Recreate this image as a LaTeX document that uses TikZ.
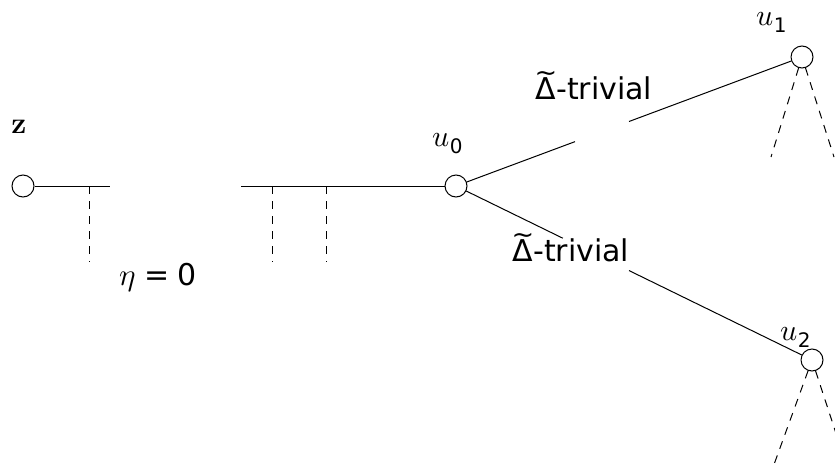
\documentclass[tikz,border=0pt]{standalone}
\usepackage{fontspec}
\usepackage{unicode-math}
\setmathfont{Latin Modern Math}
\newfontfamily\lblfont{DejaVu Sans}
\usetikzlibrary{calc}
\tikzset{
  vtx/.style={circle,draw,line width=1pt,minimum size=22pt,inner sep=0pt},
  edge/.style={line width=1pt},
  ghost/.style={line width=1pt,dash pattern=on 8pt off 7pt},
  sanslbl/.style={font=\fontsize{30}{36}\selectfont\lblfont,inner sep=0pt,anchor=base},
  mathlbl/.style={font=\fontsize{30}{34}\selectfont,inner sep=0pt,anchor=base},
}
\newcommand{\sdig}[1]{\mbox{\lblfont\fontsize{20}{24}\selectfont #1}}
% Delta with a wide tilde set above it
\newcommand{\tDelta}{\ooalign{Δ\cr\hidewidth\raisebox{0.6em}{\scalebox{0.9}[0.85]{\char`\~}}\hidewidth\cr}}
\begin{document}
\begin{tikzpicture}[x=1pt,y=-1pt]
  \useasboundingbox (0,0) rectangle (835,466);
  \clip (0,0) rectangle (835,466);

  % vertices
  \node[vtx] (z)  at (23,186) {};
  \node[vtx] (u0) at (456,186) {};
  \node[vtx] (u1) at (802,57) {};
  \node[vtx] (u2) at (812,360) {};

  % vertex labels
  \node[mathlbl] (zl)  at (19,133) {\textbf{z}};
  \node[mathlbl] (u0l) at (448,146) {$u_{\sdig{0}}$};
  \node[mathlbl] (u1l) at (772,25)  {$u_{\sdig{1}}$};
  \node[mathlbl] (u2l) at (796,340) {$u_{\sdig{2}}$};

  % main horizontal path, interrupted
  \coordinate (h1) at (110,186);
  \coordinate (h2) at (241,186);
  \draw[edge] (z) -- (h1);
  \draw[edge] (h2) -- (u0);

  % dashed pendant edges
  \coordinate (p1) at (89,186);  \coordinate (q1) at (89,262);
  \coordinate (p2) at (272,186); \coordinate (q2) at (272,262);
  \coordinate (p3) at (326,186); \coordinate (q3) at (326,262);
  \draw[ghost] (p1) -- (q1);
  \draw[ghost] (p2) -- (q2);
  \draw[ghost] (p3) -- (q3);

  \node[sanslbl] (eta) at (158,285)
    {{\fontsize{31}{34}\selectfont$\eta$}\hspace{0.3em}=\hspace{0.25em}0};

  % branches to u1 and u2, broken where the labels sit
  \draw[edge] (u0) -- ($(u0)!0.344!(u1)$);
  \draw[edge] ($(u0)!0.5!(u1)$) -- (u1);
  \draw[edge] (u0) -- ($(u0)!0.30!(u2)$);
  \draw[edge] ($(u0)!0.486!(u2)$) -- (u2);

  \node[sanslbl] (t1) at (594,99)  {\tDelta-trivial};
  \node[sanslbl] (t2) at (571,261) {\tDelta-trivial};

  % subtrees below u1 and u2
  \coordinate (a1) at (771,157);
  \coordinate (b1) at (834,157);
  \draw[ghost] (u1) -- (a1);
  \draw[ghost] (u1) -- (b1);
  \coordinate (a2) at (772,470);
  \coordinate (b2) at (848,470);
  \draw[ghost] (u2) -- (a2);
  \draw[ghost] (u2) -- (b2);
\end{tikzpicture}
\end{document}
